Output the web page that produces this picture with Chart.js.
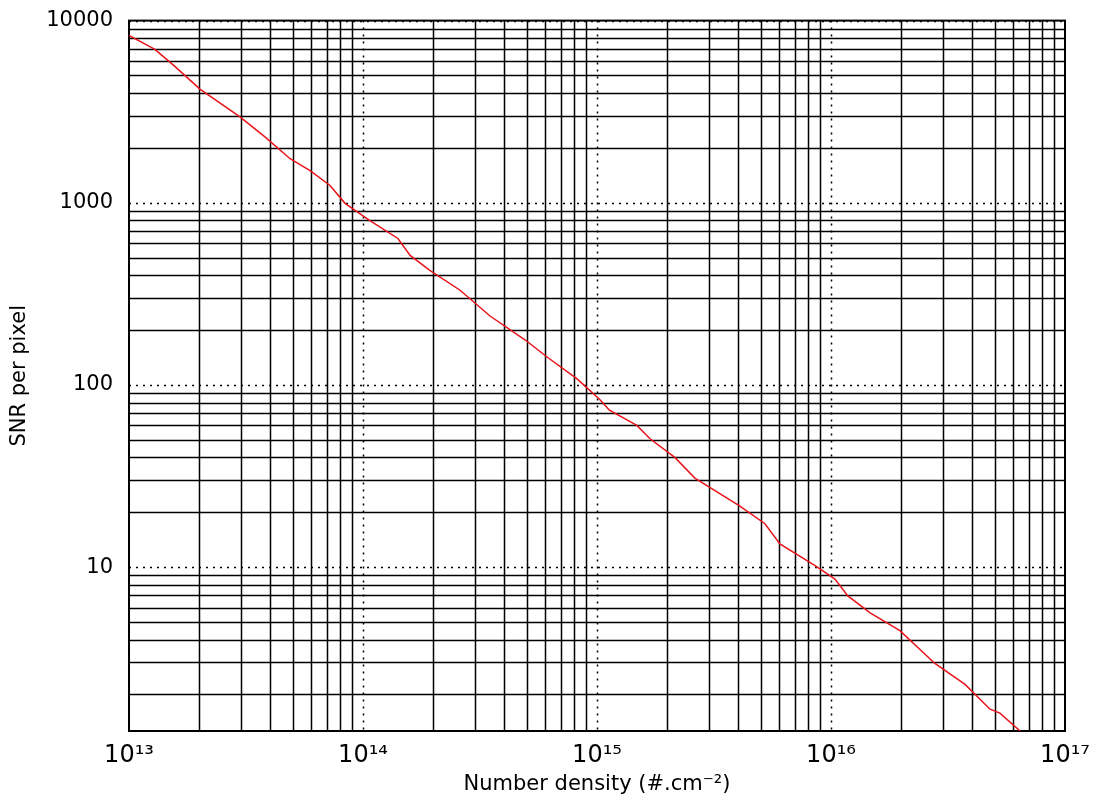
<!DOCTYPE html>
<html>
<head>
<meta charset="utf-8">
<script src="https://cdn.jsdelivr.net/npm/chart.js@4"></script>
<style>
  body { margin: 0; background: #fff; }
  #wrap { width: 1095px; height: 801px; }
</style>
</head>
<body>
<div id="wrap"><canvas id="snr-chart"></canvas></div>
<script>
// number density (#.cm^-2) and SNR
const densities = [1e13, 1.29e13, 1.57e13, 2.01e13, 2.98e13, 3.81e13, 4.88e13, 5.94e13, 7.23e13, 8.38e13,
    1.07e14, 1.41e14, 1.59e14, 1.93e14, 2.60e14, 3.49e14, 4.92e14, 6.18e14, 8.22e14,
    1.03e15, 1.13e15, 1.48e15, 1.68e15, 2.15e15, 2.62e15, 4.08e15, 5.22e15, 6.05e15, 8.55e15,
    1.04e16, 1.18e16, 1.47e16, 1.97e16, 2.78e16, 3.74e16, 4.78e16, 5.27e16, 6.43e16]
const snrValues = [8300, 6950, 5610, 4210, 2960, 2300, 1745, 1502, 1245, 993,
    798, 637, 514, 426, 331, 239, 177, 141, 108,
    83, 72.6, 60, 50.8, 40, 30.8, 21.6, 17.3, 13.4, 10.2,
    8.6, 6.95, 5.61, 4.48, 2.96, 2.27, 1.66, 1.58, 1.26]
const xTickValues = [1e13, 1e14, 1e15, 1e16, 1e17]
const xTickLabels = ['10¹³', '10¹⁴', '10¹⁵', '10¹⁶', '10¹⁷']
const yTickValues = [10, 100, 1000, 10000]
const yMin = 1.26

// grid: solid at minor decades, dotted at the decades
const logGrid = {
    id: 'logGrid',
    beforeDatasetsDraw(chart) {
        const { ctx, chartArea: a, scales: { x, y } } = chart
        ctx.save()
        ctx.lineWidth = 1.5
        ctx.strokeStyle = '#000'
        for (let e = 13; e < 17; e++) {
            for (let m = 1; m <= 9; m++) {
                let px = Math.round(x.getPixelForValue(m * Math.pow(10, e))) + 0.5
                if (m == 1 && e == 13) continue
                ctx.setLineDash(m == 1 ? [2, 5] : [])
                ctx.beginPath(); ctx.moveTo(px, a.top); ctx.lineTo(px, a.bottom); ctx.stroke()
            }
        }
        for (let e = 0; e < 4; e++) {
            for (let m = 1; m <= 9; m++) {
                let v = m * Math.pow(10, e)
                if (v < yMin) continue
                let py = Math.round(y.getPixelForValue(v)) + 0.5
                ctx.setLineDash(m == 1 ? [2, 5] : [])
                ctx.beginPath(); ctx.moveTo(a.left, py); ctx.lineTo(a.right, py); ctx.stroke()
            }
        }
        let py = Math.round(y.getPixelForValue(10000)) + 0.5
        ctx.setLineDash([2, 5])
        ctx.beginPath(); ctx.moveTo(a.left, py); ctx.lineTo(a.right, py); ctx.stroke()
        ctx.setLineDash([])
        ctx.lineWidth = 2
        ctx.strokeRect(a.left, a.top, a.right - a.left, a.bottom - a.top)
        ctx.restore()
    }
}

const font = { family: 'DejaVu Sans', size: 21 }
const titleFont = { family: 'DejaVu Sans', size: 21 }

new Chart(document.getElementById('snr-chart'), {
    type: 'line',
    data: {
        datasets: [{
            data: densities.map((d, i) => ({ x: d, y: snrValues[i] })),
            borderColor: '#e8141c',
            borderWidth: 1.5,
            pointRadius: 0,
            tension: 0
        }]
    },
    options: {
        responsive: true,
        maintainAspectRatio: false,
        animation: false,
        layout: { padding: { top: 4, right: 30, left: 3, bottom: 0 } },
        plugins: { legend: { display: false }, tooltip: { enabled: false } },
        scales: {
            x: {
                type: 'logarithmic', min: 1e13, max: 1e17,
                afterBuildTicks: s => { s.ticks = xTickValues.map(v => ({ value: v })) },
                ticks: { color: '#000', font: { family: 'DejaVu Sans', size: 24 }, maxRotation: 0, autoSkip: false, padding: 2,
                    callback: (v) => xTickLabels[xTickValues.indexOf(v)] },
                grid: { display: false },
                border: { display: false },
                title: { display: true, text: 'Number density (#.cm⁻²)', color: '#000', font: titleFont, padding: { top: 0 } }
            },
            y: {
                type: 'logarithmic', min: yMin, max: 10000,
                afterBuildTicks: s => { s.ticks = yTickValues.map(v => ({ value: v })) },
                ticks: { color: '#000', font: font, autoSkip: false, padding: 8, callback: v => String(v) },
                grid: { display: false },
                border: { display: false },
                title: { display: true, text: 'SNR per pixel', color: '#000', font: titleFont, padding: { bottom: 6 } }
            }
        }
    },
    plugins: [logGrid]
})
</script>
</body>
</html>
